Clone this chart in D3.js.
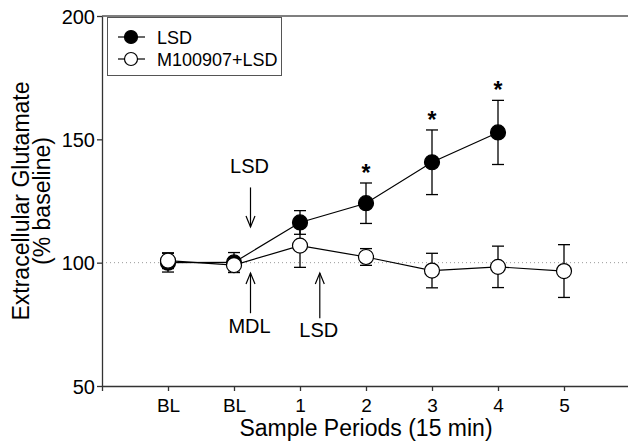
<!DOCTYPE html>
<html>
<head>
<meta charset="utf-8">
<script src="https://cdn.jsdelivr.net/npm/d3@7"></script>
<style>
  body { margin: 0; background: #fff; }
  text { font-family: Arial, "Liberation Sans", sans-serif; fill: #000; }
</style>
</head>
<body>
<div id="chart"></div>
<script>
// Data
var periods   = ["BL", "BL", "1", "2", "3", "4", "5"];
var lsdMean   = [100.0, 100.1, 116.3, 124.1, 140.7, 152.8];
var lsdErr    = [3.8, 4.0, 4.8, 8.2, 13.1, 13.0];
var mdlMean   = [100.8, 99.0, 106.9, 102.3, 96.8, 98.3, 96.6];
var mdlErr    = [3.2, 3.0, 8.8, 3.4, 7.0, 8.4, 10.7];
var starIdx   = [3, 4, 5];            // significant points of LSD series
var yTicks    = [50, 100, 150, 200];
var seriesNames = ["LSD", "M100907+LSD"];

var width = 628, height = 442;

var svg = d3.select("#chart").append("svg")
    .attr("width", width)
    .attr("height", height);

var x = d3.scaleLinear().domain([-1, 7]).range([102, 630]);
var y = d3.scaleLinear().domain([50, 200]).range([386, 16]);

// baseline reference (dotted)
svg.append("line")
    .attr("x1", x(-1)).attr("x2", width)
    .attr("y1", y(100)).attr("y2", y(100))
    .attr("stroke", "#999").attr("stroke-width", 1)
    .attr("stroke-dasharray", "1,3");

// top frame line
svg.append("line")
    .attr("x1", x(-1)).attr("x2", width)
    .attr("y1", y(200)).attr("y2", y(200))
    .attr("stroke", "#555").attr("stroke-width", 1.3);

// axes
var yAxis = svg.append("g")
    .attr("transform", "translate(" + x(-1) + ",0)")
    .call(d3.axisLeft(y).tickValues(yTicks).tickSize(5).tickSizeOuter(0).tickPadding(2));
yAxis.selectAll("text").style("font-size", "20px").attr("dy", "0.36em");

var xAxis = svg.append("g")
    .attr("transform", "translate(0," + y(50) + ")")
    .call(d3.axisBottom(x).tickValues(d3.range(0, periods.length))
        .tickFormat(function(i) { return periods[i]; })
        .tickSize(5).tickSizeOuter(5).tickPadding(8));
xAxis.selectAll("text").style("font-size", "19px");

svg.selectAll(".domain, .tick line").attr("stroke", "#333").attr("stroke-width", 1.3);

// axis titles
svg.append("text")
    .attr("x", x(3)).attr("y", 436)
    .attr("text-anchor", "middle")
    .style("font-size", "23px")
    .text("Sample Periods (15 min)");

var yt = svg.append("text")
    .attr("transform", "translate(29," + y(125) + ") rotate(-90)")
    .attr("text-anchor", "middle")
    .style("font-size", "23px");
yt.append("tspan").attr("x", 0).attr("dy", 0).text("Extracellular Glutamate");
yt.append("tspan").attr("x", 0).attr("dy", 21).text("(% baseline)");

// lines
var line = d3.line()
    .x(function(d, i) { return x(i); })
    .y(function(d) { return y(d); });

function drawSeries(mean, err) {
    var g = svg.append("g");
    g.append("path").datum(mean)
        .attr("d", line)
        .attr("fill", "none").attr("stroke", "#000").attr("stroke-width", 1.2);
    var eb = g.selectAll(".eb").data(mean).enter().append("g");
    eb.append("line")
        .attr("x1", function(d, i) { return x(i); })
        .attr("x2", function(d, i) { return x(i); })
        .attr("y1", function(d, i) { return y(d + err[i]); })
        .attr("y2", function(d, i) { return y(d - err[i]); })
        .attr("stroke", "#000").attr("stroke-width", 1.3);
    [1, -1].forEach(function(s) {
        eb.append("line")
            .attr("x1", function(d, i) { return x(i) - 6; })
            .attr("x2", function(d, i) { return x(i) + 6; })
            .attr("y1", function(d, i) { return y(d + s * err[i]); })
            .attr("y2", function(d, i) { return y(d + s * err[i]); })
            .attr("stroke", "#000").attr("stroke-width", 1.3);
    });
    return g;
}

drawSeries(lsdMean, lsdErr);
drawSeries(mdlMean, mdlErr);

// markers drawn after both series so circles sit on top
svg.append("g").selectAll("circle").data(lsdMean).enter().append("circle")
    .attr("cx", function(d, i) { return x(i); })
    .attr("cy", function(d) { return y(d); })
    .attr("r", 7.5)
    .attr("fill", "#000").attr("stroke", "#000").attr("stroke-width", 1.2);

svg.append("g").selectAll("circle").data(mdlMean).enter().append("circle")
    .attr("cx", function(d, i) { return x(i); })
    .attr("cy", function(d) { return y(d); })
    .attr("r", 7.5)
    .attr("fill", "#fff").attr("stroke", "#000").attr("stroke-width", 1.2);

// significance stars
svg.append("g").selectAll("text").data(starIdx).enter().append("text")
    .attr("x", function(i) { return x(i); })
    .attr("y", function(i) { return y(lsdMean[i] + lsdErr[i]) - 2; })
    .attr("text-anchor", "middle")
    .style("font-size", "23px")
    .style("font-weight", "bold")
    .text("*");

// arrows: x position (period units), tip value, tail value, label, label baseline
function arrow(xi, tipV, tailV, label, labelY) {
    var xp = x(xi), yt = y(tipV), yb = y(tailV);
    var dir = yt < yb ? 1 : -1;
    svg.append("line").attr("x1", xp).attr("x2", xp).attr("y1", yt).attr("y2", yb)
        .attr("stroke", "#000").attr("stroke-width", 1.2);
    svg.append("path")
        .attr("d", "M" + (xp - 4.5) + "," + (yt + dir * 11) + "L" + xp + "," + yt + "L" + (xp + 4.5) + "," + (yt + dir * 11))
        .attr("fill", "none").attr("stroke", "#000").attr("stroke-width", 1.2);
    svg.append("text").attr("x", xp - 1).attr("y", labelY)
        .attr("text-anchor", "middle").style("font-size", "20px").text(label);
}
arrow(1.25, 114.5, 130.5, "LSD", 173);
arrow(1.25, 95.8, 79.5, "MDL", 333);
arrow(2.3, 95.8, 77.5, "LSD", 337);

// legend
var leg = svg.append("g");
leg.append("rect")
    .attr("x", 107.5).attr("y", 17.5).attr("width", 174).attr("height", 58)
    .attr("fill", "#fff").attr("stroke", "#555").attr("stroke-width", 1);
var fills = ["#000", "#fff"];
seriesNames.forEach(function(name, k) {
    var ly = 37 + k * 22;
    leg.append("line").attr("x1", 118).attr("x2", 145).attr("y1", ly).attr("y2", ly)
        .attr("stroke", "#000").attr("stroke-width", 1.2);
    leg.append("circle").attr("cx", 131).attr("cy", ly).attr("r", 6.5)
        .attr("fill", fills[k]).attr("stroke", "#000").attr("stroke-width", 1.2);
    leg.append("text").attr("x", 157).attr("y", ly + 6.5)
        .style("font-size", "18px").text(name);
});
</script>
</body>
</html>
